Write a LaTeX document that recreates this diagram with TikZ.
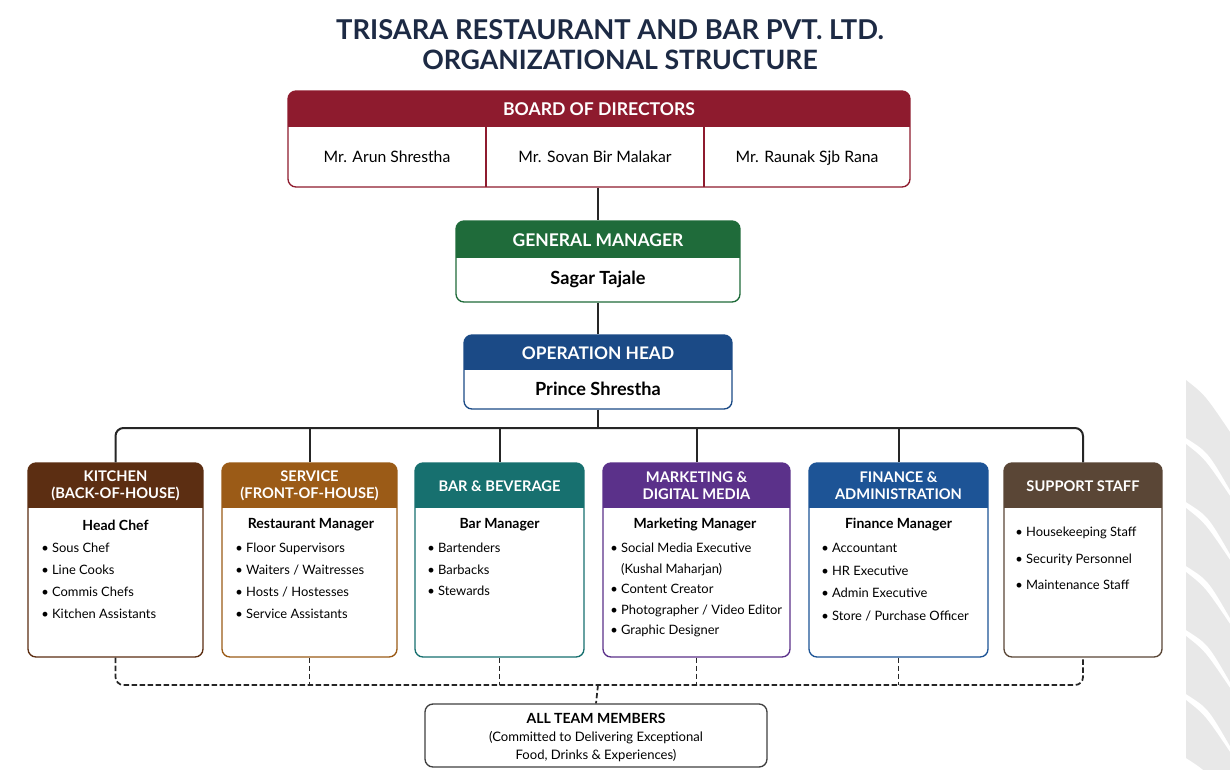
\documentclass[tikz,border=0pt]{standalone}
\usepackage{fontspec}
\setmainfont{Lato}
\usepackage{tikz}
\usetikzlibrary{positioning, fit, backgrounds}

\definecolor{titlenavy}{HTML}{1D2A44}
\definecolor{boardred}{HTML}{8E1B2E}
\definecolor{gmgreen}{HTML}{1F6B3A}
\definecolor{ohblue}{HTML}{1B4A86}
\definecolor{kitbrown}{HTML}{5C2E12}
\definecolor{serorange}{HTML}{9B5B17}
\definecolor{barteal}{HTML}{17706F}
\definecolor{mktpurple}{HTML}{5B318A}
\definecolor{finblue}{HTML}{1D5496}
\definecolor{supbrown}{HTML}{5A4636}

% box with a coloured header band: name, x1, y1, x2, y2, band bottom, colour
\newcommand{\orgbox}[7]{%
  \begin{scope}
    \clip[rounded corners=6pt] (#2,#3) rectangle (#4,#5);
    \fill[white] (#2,#3) rectangle (#4,#5);
    \fill[#7] (#2,#3) rectangle (#4,#6);
  \end{scope}
  \node[boxframe, draw=#7, fit={(#2,#3) (#4,#5)}] (#1) {};
}

\tikzset{
  conn/.style={line width=1.5pt, black!85},
  dashconn/.style={line width=1.3pt, black!85, dash pattern=on 4pt off 2pt},
  boxframe/.style={draw, rounded corners=6pt, line width=1pt, inner sep=0pt},
  headtext/.style={text=white, font=\bfseries\fontsize{11}{12.8}\selectfont, align=center, inner sep=0pt},
  nametext/.style={font=\fontsize{11.8}{14}\selectfont, anchor=base, inner sep=0pt},
  roletext/.style={font=\bfseries\fontsize{10.5}{12}\selectfont, inner sep=0pt},
  listtext/.style={align=left, anchor=north west, inner sep=0pt},
}

\begin{document}
\begin{tikzpicture}[x=0.75pt, y=-0.75pt]
    \useasboundingbox (0,0) rectangle (1230,769);
    \fill[white] (0,0) rectangle (1230,769);

    % watermark strokes at the right edge
    \foreach \i in {0,...,5}
        \fill[black!9] (1186,{380+\i*64}) .. controls (1205,{395+\i*64}) .. (1230,{432+\i*64})
            -- (1230,{490+\i*64}) .. controls (1208,{452+\i*64}) .. (1186,{438+\i*64}) -- cycle;

    % title
    \node[text=titlenavy, font=\bfseries\fontsize{20.5}{24}\selectfont] (title1) at (610,30) {TRISARA RESTAURANT AND BAR PVT. LTD.};
    \node[text=titlenavy, font=\bfseries\fontsize{20}{24}\selectfont] (title2) at (620,60) {ORGANIZATIONAL STRUCTURE};

    % board of directors
    \orgbox{board}{288}{91}{910}{187}{127}{boardred}
    \draw[boardred, line width=1pt] (486,127) -- (486,187) (704,127) -- (704,187);
    \node[headtext, font=\bfseries\fontsize{13.2}{15}\selectfont] (boardh) at (599,109) {BOARD OF DIRECTORS};
    \node[nametext] (dir1) at (387,162) {Mr. Arun Shrestha};
    \node[nametext] (dir2) at (595,162) {Mr. Sovan Bir Malakar};
    \node[nametext] (dir3) at (807,162) {Mr. Raunak Sjb Rana};

    % general manager and operation head
    \orgbox{gm}{456}{221}{740}{302}{258}{gmgreen}
    \node[headtext, font=\bfseries\fontsize{13.1}{15}\selectfont] (gmh) at (598,240) {GENERAL MANAGER};
    \node[font=\bfseries\fontsize{13.6}{15}\selectfont] (gmname) at (598,279) {Sagar Tajale};
    \orgbox{oh}{464}{335}{732}{409}{370}{ohblue}
    \node[headtext, font=\bfseries\fontsize{13}{15}\selectfont] (ohh) at (598,353) {OPERATION HEAD};
    \node[font=\bfseries\fontsize{13.6}{15}\selectfont] (ohname) at (598,389) {Prince Shrestha};

    % departments
    \orgbox{kit}{28}{463}{203}{657}{508}{kitbrown}
    \orgbox{ser}{222}{463}{397}{657}{508}{serorange}
    \orgbox{bar}{415}{463}{584}{657}{508}{barteal}
    \orgbox{mkt}{603}{463}{790}{657}{508}{mktpurple}
    \orgbox{fin}{809}{463}{988}{657}{508}{finblue}
    \orgbox{sup}{1004}{463}{1162}{657}{508}{supbrown}

    \node[headtext] (kith) at (115.5,485.5) {KITCHEN\\(BACK-OF-HOUSE)};
    \node[headtext] (serh) at (309.5,485.5) {SERVICE\\(FRONT-OF-HOUSE)};
    \node[headtext] (barh) at (499.5,486.5) {BAR \& BEVERAGE};
    \node[headtext] (mkth) at (696.5,485.5) {MARKETING \&\\DIGITAL MEDIA};
    \node[headtext] (finh) at (898.5,485.5) {FINANCE \&\\ADMINISTRATION};
    \node[headtext] (suph) at (1083,486.5) {SUPPORT STAFF};

    \node[roletext] (kitrole) at (115.5,525) {Head Chef};
    \node[roletext] (serrole) at (311,525) {Restaurant Manager};
    \node[roletext] (barrole) at (499.5,525) {Bar Manager};
    \node[roletext] (mktrole) at (695,525) {Marketing Manager};
    \node[roletext] (finrole) at (898.5,525) {Finance Manager};

    \node[listtext, font=\fontsize{9.7}{16.3}\selectfont] (kitlist) at (41,543) {\textbullet\ Sous Chef\\\textbullet\ Line Cooks\\\textbullet\ Commis Chefs\\\textbullet\ Kitchen Assistants};
    \node[listtext, font=\fontsize{9.7}{16.3}\selectfont] (serlist) at (235,543) {\textbullet\ Floor Supervisors\\\textbullet\ Waiters / Waitresses\\\textbullet\ Hosts / Hostesses\\\textbullet\ Service Assistants};
    \node[listtext, font=\fontsize{9.7}{16.1}\selectfont] (barlist) at (427,543) {\textbullet\ Bartenders\\\textbullet\ Barbacks\\\textbullet\ Stewards};
    \node[listtext, font=\fontsize{9.7}{15.4}\selectfont] (mktlist) at (610,543) {\textbullet\ Social Media Executive\\\hphantom{\textbullet\ }(Kushal Maharjan)\\\textbullet\ Content Creator\\\textbullet\ Photographer / Video Editor\\\textbullet\ Graphic Designer};
    \node[listtext, font=\fontsize{9.7}{17}\selectfont] (finlist) at (821,543) {\textbullet\ Accountant\\\textbullet\ HR Executive\\\textbullet\ Admin Executive\\\textbullet\ Store / Purchase Officer};
    \node[listtext, font=\fontsize{9.7}{19.9}\selectfont] (suplist) at (1015,527) {\textbullet\ Housekeeping Staff\\\textbullet\ Security Personnel\\\textbullet\ Maintenance Staff};

    % all team members
    \node[boxframe, draw=black!75, fit={(425,704) (767,767)}] (team) {};
    \node[align=center, font=\fontsize{9.8}{13.5}\selectfont] (teamtext) at (596,737) {\textbf{\fontsize{10.5}{13.5}\selectfont ALL TEAM MEMBERS}\\(Committed to Delivering Exceptional\\Food, Drinks \& Experiences)};

    % reporting lines
    \draw[conn] (gm.north |- board.south) -- (gm.north);
    \draw[conn] (gm.south) -- (oh.north);
    \coordinate (bus) at (598,428);
    \draw[conn] (oh.south) -- (bus);
    \draw[conn, rounded corners=6pt] (kit.north) |- (bus) -| (sup.north);
    \draw[conn] (ser.north) -- (ser.north |- bus);
    \draw[conn] (bar.north) -- (bar.north |- bus);
    \draw[conn] (mkt.north) -- (mkt.north |- bus);
    \draw[conn] (fin.north) -- (fin.north |- bus);

    \coordinate (teambus) at (598,685);
    \draw[dashconn, rounded corners=6pt] (kit.south) |- (teambus) -| (sup.south);
    \draw[dashconn] (ser.south) -- (ser.south |- teambus);
    \draw[dashconn] (bar.south) -- (bar.south |- teambus);
    \draw[dashconn] (mkt.south) -- (mkt.south |- teambus);
    \draw[dashconn] (fin.south) -- (fin.south |- teambus);
    \draw[dashconn] (teambus) -- (team.north);
\end{tikzpicture}
\end{document}
